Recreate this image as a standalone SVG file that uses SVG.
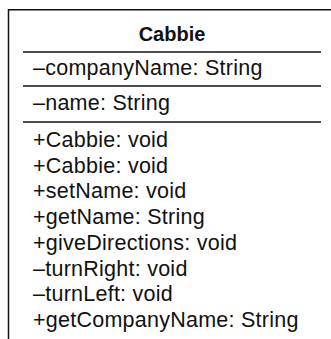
<svg xmlns="http://www.w3.org/2000/svg" width="331" height="339" viewBox="0 0 331 339">
<style>
.t{font-family:"Liberation Sans",Arial,sans-serif;font-size:21.5px;letter-spacing:0.25px;fill:#111}
.b{font-weight:bold;font-size:20px;letter-spacing:0;text-anchor:middle}
.ln{stroke:#111;stroke-width:1.5;fill:none}
</style>
<rect width="331" height="339" fill="#fff"/>
<g id="cabbie">
<path class="ln" d="M8.5,339 V9.75 H331"/>
<line class="ln" x1="23" y1="52" x2="321" y2="52"/>
<line class="ln" x1="23" y1="86" x2="321" y2="86"/>
<line class="ln" x1="23" y1="122" x2="321" y2="122"/>
<text class="t b" x="172" y="41">Cabbie</text>
<text class="t" x="33" y="75">–companyName: String</text>
<text class="t" x="33" y="110">–name: String</text>
<text class="t" x="33" y="147">+Cabbie: void</text>
<text class="t" x="33" y="172.7">+Cabbie: void</text>
<text class="t" x="33" y="198.4">+setName: void</text>
<text class="t" x="33" y="224.1">+getName: String</text>
<text class="t" x="33" y="249.8">+giveDirections: void</text>
<text class="t" x="33" y="275.5">–turnRight: void</text>
<text class="t" x="33" y="301.2">–turnLeft: void</text>
<text class="t" x="33" y="326.9">+getCompanyName: String</text>
</g>
<g id="connectors"/>
</svg>
